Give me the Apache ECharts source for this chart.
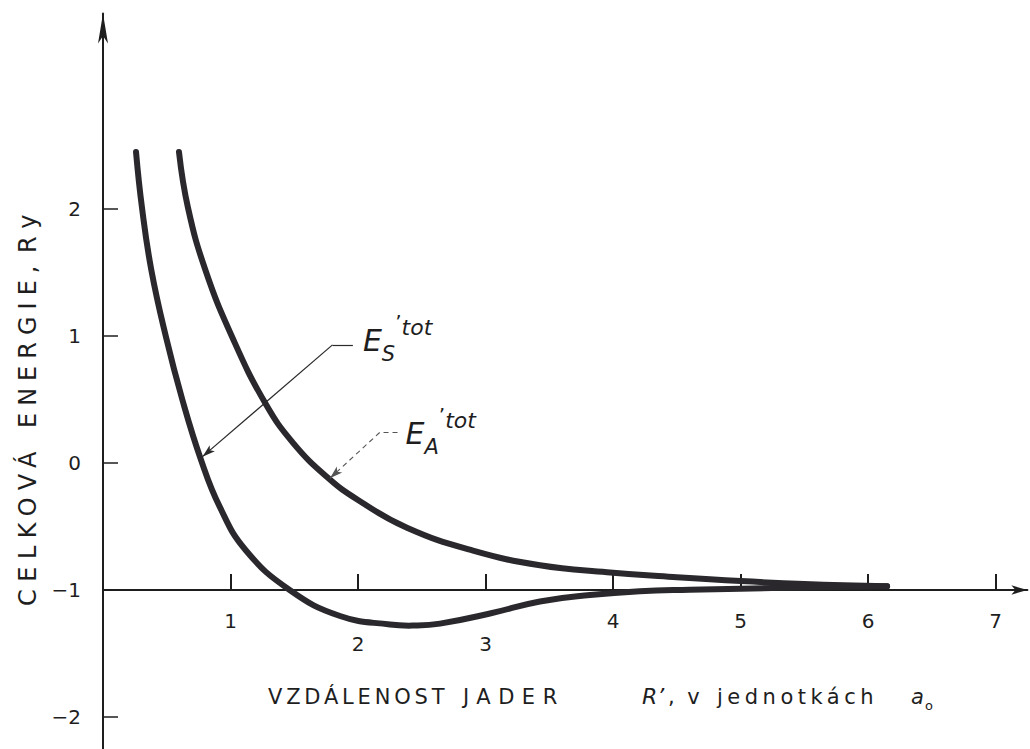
<!DOCTYPE html>
<html><head><meta charset="utf-8">
<script src="https://cdn.jsdelivr.net/npm/echarts@6/dist/echarts.min.js"></script>
<style>html,body{margin:0;padding:0;background:#fff}#chart{width:1030px;height:749px}</style>
</head><body><div id="chart"></div>
<script>
// ---- data ----
const xS = [0.259, 0.306, 0.379, 0.494, 0.623, 0.769, 0.916, 1.118, 1.464, 1.859, 2.251, 2.450, 2.643, 3.035, 3.427, 3.820, 4.210, 4.600, 5.000, 5.500, 6.150];
const yS = [2.449, 2.008, 1.520, 0.992, 0.496, 0.024, -0.346, -0.685, -1.000, -1.205, -1.272, -1.280, -1.265, -1.185, -1.090, -1.040, -1.010, -0.998, -0.990, -0.980, -0.970];
const xA = [0.596, 0.667, 0.803, 1.013, 1.272, 1.492, 1.766, 2.000, 2.384, 2.902, 3.427, 3.953, 4.500, 5.000, 5.500, 6.150];
const yA = [2.449, 2.008, 1.520, 0.992, 0.472, 0.157, -0.118, -0.291, -0.510, -0.690, -0.805, -0.860, -0.900, -0.930, -0.952, -0.970];
const xTicks = [1, 2, 3, 4, 5, 6, 7];
const yTicks = [-2, -1, 0, 1, 2];
const xAxisAt = -1;
const leaderS = [[1.96, 0.93], [1.80, 0.93], [0.78, 0.05]];
const leaderA = [[2.31, 0.24], [2.17, 0.24], [1.78, -0.12]];

// ---- layout ----
const INK = '#1e1e1e', CURVE = '#2a282c';
const PXX = 127.5, PXY = 127, LEFT = 103;
const X_MIN = 0, X_MAX = 7.25, Y_MIN = -2.25, Y_MAX = 3.54;
const TOP = 463 - Y_MAX * PXY;
const GW = (X_MAX - X_MIN) * PXX, GH = (Y_MAX - Y_MIN) * PXY;
const X_OFFSET = -((xAxisAt - Y_MIN) * PXY);
const FONT = '"DejaVu Sans", sans-serif';

const pair = (xs, ys) => xs.map((x, i) => [x, ys[i]]);
function leader(pts, style) {
  return {
    silent: true, animation: false, symbol: ['none', 'none'],
    label: { show: false }, emphasis: { disabled: true },
    lineStyle: style, itemStyle: { color: style.color },
    data: [
      [{ coord: pts[0] }, { coord: pts[1] }],
      [{ coord: pts[1] }, { coord: pts[2], symbol: 'arrow', symbolSize: [6, 13] }]
    ]
  };
}
// smooth curve through all points of one series, positioned by the axes' scales
function curveSeries(name, xs, ys, ml) {
  return {
    type: 'custom', name: name, data: pair(xs, ys), z: 3, silent: true, clip: false,
    encode: { x: 0, y: 1 },
    renderItem: (params, api) => {
      if (params.dataIndex !== 0) return null;
      const pts = xs.map((x, i) => api.coord([x, ys[i]]));
      return { type: 'polyline', shape: { points: pts, smooth: 0.45 },
        style: { stroke: CURVE, lineWidth: 6, fill: null, lineCap: 'round', lineJoin: 'round' } };
    },
    markLine: ml
  };
}

const chart = echarts.init(document.getElementById('chart'), null, { renderer: 'svg' });
chart.setOption({
  animation: false,
  backgroundColor: '#fff',
  grid: { left: LEFT, top: TOP, width: GW, height: GH },
  xAxis: {
    type: 'value', min: X_MIN, max: X_MAX, offset: X_OFFSET,
    axisLine: { onZero: false, symbol: ['none', 'arrow'], symbolSize: [7, 16], lineStyle: { color: INK, width: 2 } },
    axisTick: { inside: true, length: 16, customValues: xTicks, lineStyle: { color: INK, width: 2 } },
    axisLabel: {
      customValues: xTicks, margin: 21, color: INK, fontFamily: FONT, fontSize: 20,
      formatter: v => (v === 2 || v === 3) ? '{lo|' + v + '}' : '{n|' + v + '}',
      rich: { lo: { padding: [23, 0, 0, 0], fontSize: 20, fontFamily: FONT, color: INK }, n: { fontSize: 20, fontFamily: FONT, color: INK } }
    },
    splitLine: { show: false }
  },
  yAxis: {
    type: 'value', min: Y_MIN, max: Y_MAX,
    axisLine: { show: true, onZero: false, symbol: ['none', 'arrow'], symbolSize: [7.5, 30], lineStyle: { color: INK, width: 2 } },
    axisTick: { show: true, inside: true, length: 15, customValues: yTicks, lineStyle: { color: INK, width: 1.5 } },
    axisLabel: { customValues: yTicks, margin: 22, color: INK, fontFamily: FONT, fontSize: 20,
      formatter: v => v < 0 ? '\u2212' + Math.abs(v) : String(v) },
    splitLine: { show: false }
  },
  series: [
    curveSeries('E_S', xS, yS, leader(leaderS, { color: '#2a2a2a', width: 1.2, type: 'solid' })),
    curveSeries('E_A', xA, yA, leader(leaderA, { color: '#555', width: 1.1, type: [5, 4] }))
  ]
});

function t(text, x, y, o) {
  return Object.assign({ type: 'text', x: x, y: y, silent: true,
    style: Object.assign({ text: text, fill: INK, font: '21px ' + FONT, textAlign: 'left', textVerticalAlign: 'middle' }, o && o.style) },
    o && o.el);
}
const ital = s => 'italic ' + s + 'px ' + FONT;
function curveLabel(anchor, sub, dx, dy) {
  const p = chart.convertToPixel({ gridIndex: 0 }, anchor);
  return {
    type: 'text', x: p[0] + dx, y: p[1] + dy, silent: true,
    style: {
      text: '{e|E}{s|' + sub + '}{p|\u2019}{t|tot}', textAlign: 'left', textVerticalAlign: 'middle', fill: INK,
      rich: {
        e: { font: ital(30), fill: INK },
        s: { font: ital(21), fill: INK, padding: [27, 0, 0, 0] },
        p: { font: '20px ' + FONT, fill: INK, padding: [0, 0, 38, 0] },
        t: { font: ital(22), fill: INK, padding: [0, 0, 26, 0] }
      }
    }
  };
}
const rot = { el: { rotation: Math.PI / 2 }, style: { font: '24px ' + FONT } };
const graphics = [
  // y axis title
  t('CELKOVÁ', 28, 606, rot),
  t('ENERGIE,', 28, 428, rot),
  t('Ry', 28, 253, rot),
  // x axis title
  t('VZDÁLENOST', 268, 697),
  t('JADER', 463, 697),
  t('R\u2019', 642, 696, { style: { font: ital(22) } }),
  t(', v', 668, 697),
  t('jednotkách', 717, 697),
  t('a', 911, 697, { style: { font: ital(21) } }),
  t('o', 925, 705, { style: { font: '13px ' + FONT } }),
  // curve labels
  curveLabel(leaderS[0], 'S', 10, -4),
  curveLabel(leaderA[0], 'A', 8, 1)
];
chart.setOption({ graphic: graphics });
chart.getZr().flush();

const spacing = { 'CELKOVÁ': 7.5, 'ENERGIE,': 7, 'Ry': 9, 'VZDÁLENOST': 3.8, 'JADER': 7.5, 'jednotkách': 4.5, ', v': 3 };
function applySpacing() {
  document.querySelectorAll('#chart text').forEach(el => {
    const s = spacing[el.textContent];
    if (s != null) el.setAttribute('letter-spacing', s);
  });
}
applySpacing();
chart.on('finished', applySpacing);
</script>
</body></html>
